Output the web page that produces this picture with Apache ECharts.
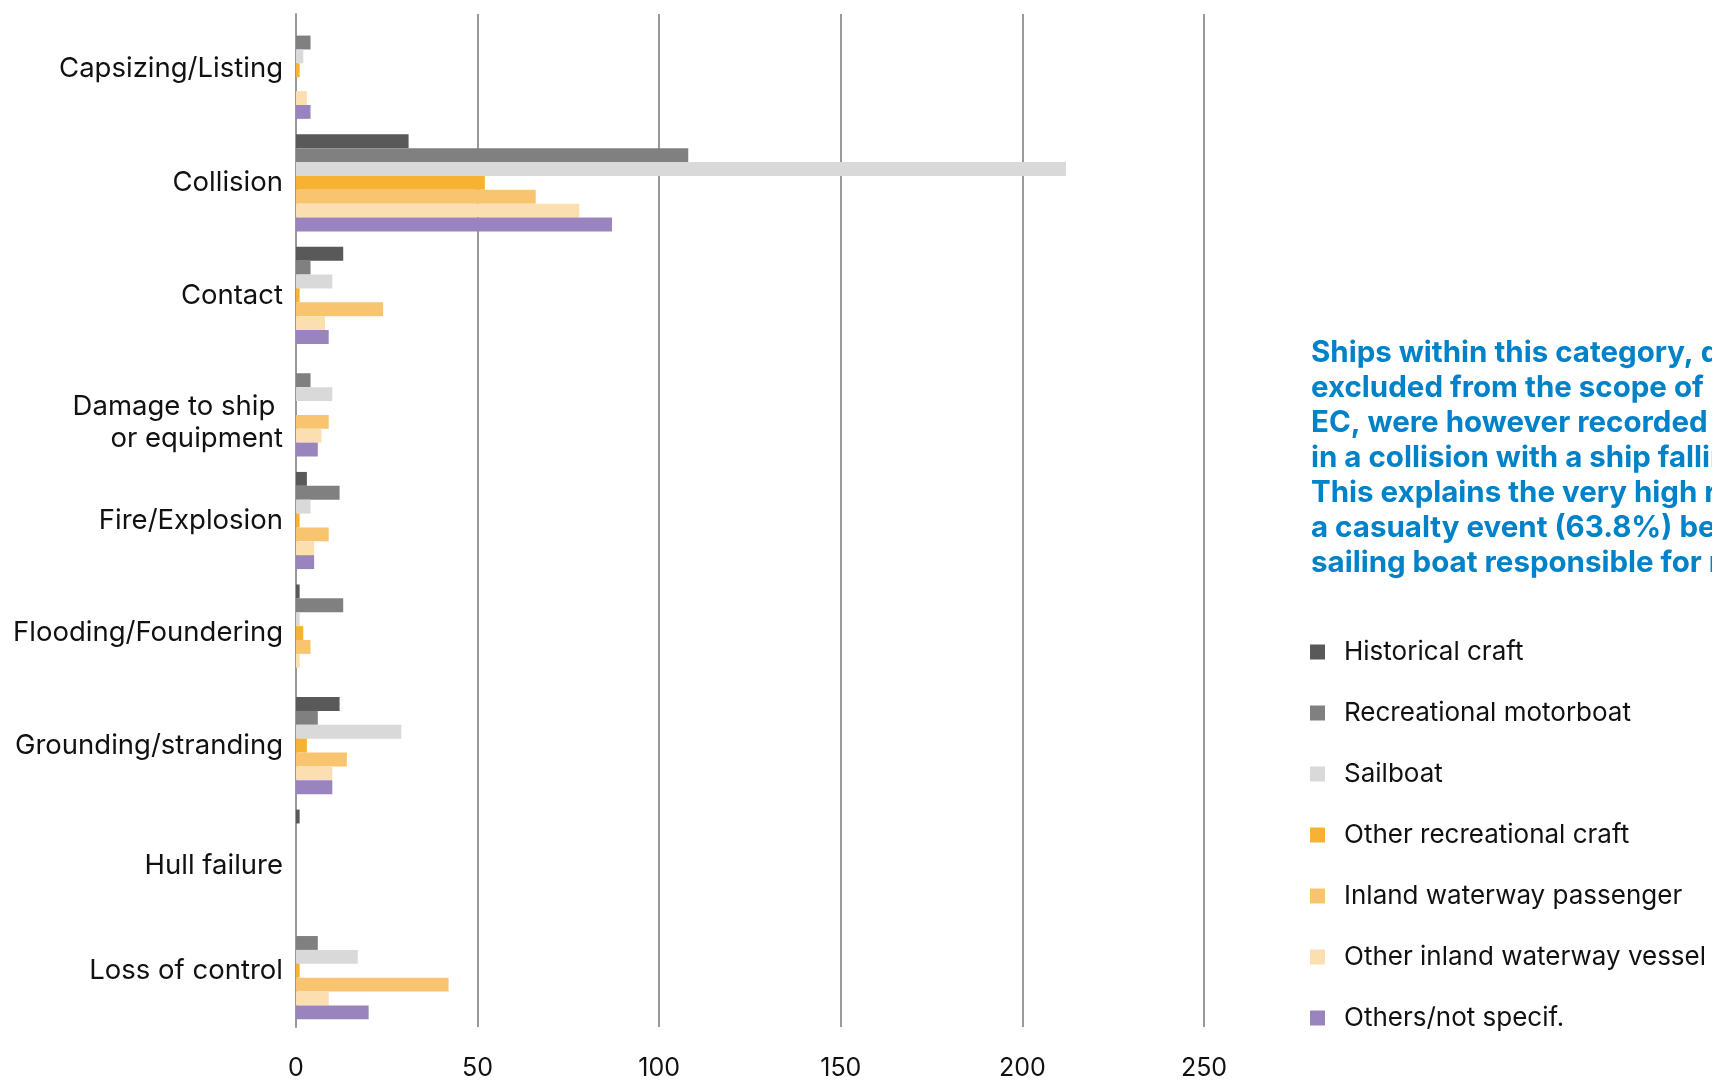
<!DOCTYPE html>
<html>
<head>
<meta charset="utf-8">
<script src="https://cdn.jsdelivr.net/npm/echarts@6/dist/echarts.min.js"></script>
<style>
html,body{margin:0;padding:0;background:#fff;}
#chart{width:1712px;height:1081px;}
</style>
</head>
<body>
<div id="chart"></div>
<script>
const categories = ["Capsizing/Listing","Collision","Contact","Damage to ship \nor equipment","Fire/Explosion","Flooding/Foundering","Grounding/stranding","Hull failure","Loss of control"];
const seriesNames = ["Historical craft","Recreational motorboat","Sailboat","Other recreational craft","Inland waterway passenger","Other inland waterway vessel","Others/not specif."];
const historical   = [0, 31, 13, 0, 3, 1, 12, 1, 0];
const motorboat    = [4, 108, 4, 4, 12, 13, 6, 0, 6];
const sailboat     = [2, 212, 10, 10, 4, 1, 29, 0, 17];
const otherRec     = [1, 52, 1, 0, 1, 2, 3, 0, 1];
const inlandPass   = [0, 66, 24, 9, 9, 4, 14, 0, 42];
const otherInland  = [3, 78, 8, 7, 5, 1, 10, 0, 9];
const othersNS     = [4, 87, 9, 6, 5, 0, 10, 0, 20];
const xTicks = [0, 50, 100, 150, 200, 250];
const noteLines = [
  "Ships within this category, despite being",
  "excluded from the scope of Directive 2009/18/",
  "EC, were however recorded as being involved",
  "in a collision with a ship falling within its scope.",
  "This explains the very high rate of involvement in",
  "a casualty event (63.8%) being a recreational",
  "sailing boat responsible for most of them."
];

const colors = ["#595959","#808080","#D9D9D9","#F8B233","#F9C46F","#FBDFB1","#9984BD"];
const allData = [historical, motorboat, sailboat, otherRec, inlandPass, otherInland, othersNS];
const FONT = "Inter";
const LBL = 27.5;

// vertical nudges of some category labels (spacer line heights)
const spacerTop = {"Damage to ship \nor equipment":30, "Hull failure":15};
const spacerBottom = {"Capsizing/Listing":4};

const chart = echarts.init(document.getElementById('chart'), null, {renderer:'canvas'});
chart.setOption({
  animation:false,
  backgroundColor:'#fff',
  textStyle:{fontFamily:FONT},
  grid:{left:296, right:508, top:14, bottom:54, containLabel:false},
  xAxis:{
    type:'value', min:xTicks[0], max:xTicks[xTicks.length-1], interval:50,
    axisLine:{show:false}, axisTick:{show:false},
    axisLabel:{color:'#111', fontSize:25, fontFamily:FONT, margin:29},
    splitLine:{show:true, lineStyle:{color:'#999', width:2}}
  },
  yAxis:{
    type:'category', inverse:true,
    data:categories,
    axisLine:{show:true, lineStyle:{color:'#999', width:2}},
    axisTick:{show:false},
    axisLabel:{
      color:'#111', fontSize:LBL, fontFamily:FONT, margin:13, lineHeight:32, align:'right',
      formatter:function(v){
        const lines = v.split('\n').map(l => '{n|' + l + '}');
        if (spacerTop[v]) { lines.unshift('{t' + spacerTop[v] + '| }'); }
        if (spacerBottom[v]) { lines.push('{b' + spacerBottom[v] + '| }'); }
        return lines.join('\n');
      },
      rich:{
        n:{fontSize:LBL, fontFamily:FONT, color:'#111', lineHeight:32},
        t30:{fontSize:1, lineHeight:30},
        t15:{fontSize:1, lineHeight:15},
        b4:{fontSize:1, lineHeight:4}
      }
    }
  },
  legend:{
    orient:'vertical', left:1305, top:634,
    itemWidth:15, itemHeight:15, itemGap:35,
    icon:'rect',
    textStyle:{color:'#111', fontSize:26, fontFamily:FONT, lineHeight:26, padding:[0,0,0,14]},
    data:seriesNames
  },
  graphic:[{
    type:'text', left:1311, top:336,
    style:{
      text:noteLines.join('\n'),
      fill:'#0082C8',
      font:'bold 29.5px ' + FONT,
      lineHeight:35
    }
  }],
  series: seriesNames.map((n,i) => ({
    name:n, type:'bar', data:allData[i],
    barGap:0, barCategoryGap:'13.7%',
    itemStyle:{color:colors[i]},
    emphasis:{disabled:true}
  }))
});
</script>
</body>
</html>
